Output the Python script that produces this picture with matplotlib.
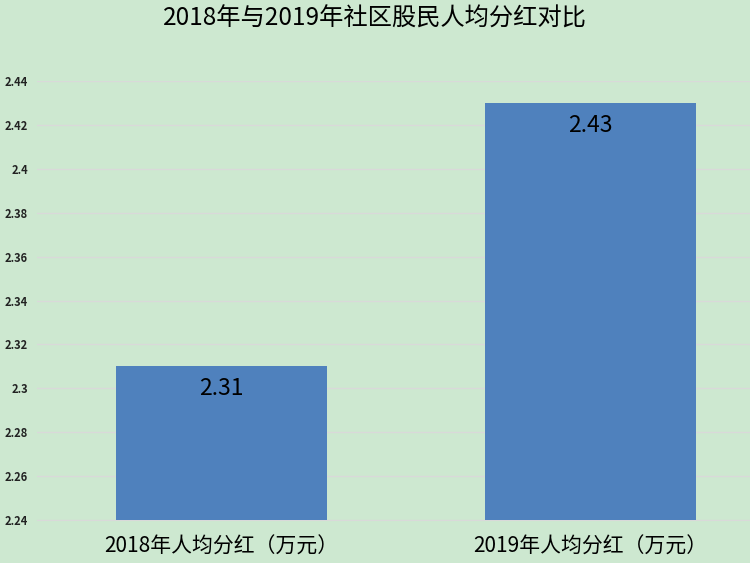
import matplotlib.pyplot as plt

plt.rcParams['font.family'] = ['Noto Sans CJK SC', 'DejaVu Sans']

categories = ['2018年人均分红（万元）', '2019年人均分红（万元）']
values = [2.31, 2.43]
yticks = [2.24, 2.26, 2.28, 2.3, 2.32, 2.34, 2.36, 2.38, 2.4, 2.42, 2.44]
ytick_labels = ['2.24', '2.26', '2.28', '2.3', '2.32', '2.34', '2.36', '2.38', '2.4', '2.42', '2.44']

bg = '#cde8d0'
fig = plt.figure(figsize=(7.5, 5.63), dpi=100, facecolor=bg)
ax = fig.add_axes([37 / 750, 43 / 563, 713 / 750, 439 / 563], facecolor=bg)

x = [0, 1]
bars = ax.bar(x, values, width=0.57, color='#4f81bd', zorder=3)
for b, v in zip(bars, values):
    ax.text(b.get_x() + b.get_width() / 2, v - 0.005, str(v), ha='center', va='top',
            fontsize=16.5, color='black', zorder=4)

ax.set_xlim(-0.5, 1.432)
ax.set_ylim(2.24, 2.44)
ax.set_yticks(yticks)
ax.set_yticklabels(ytick_labels, fontsize=8, fontweight='bold', color='#222222')
ax.set_xticks(x)
ax.set_xticklabels(categories, fontsize=15, color='black')
ax.tick_params(axis='both', length=0)
ax.tick_params(axis='y', pad=6.5)
ax.tick_params(axis='x', pad=11)
ax.grid(axis='y', color='#d9d9d9', linewidth=1, zorder=0)
for s in ['top', 'right', 'left']:
    ax.spines[s].set_visible(False)
ax.spines['bottom'].set_color('#d9d9d9')

fig.text(0.5, 1 - 19 / 563, '2018年与2019年社区股民人均分红对比', ha='center', va='center',
         fontsize=17.5, color='black')

fig.savefig('out.png', dpi=100, facecolor=bg)
